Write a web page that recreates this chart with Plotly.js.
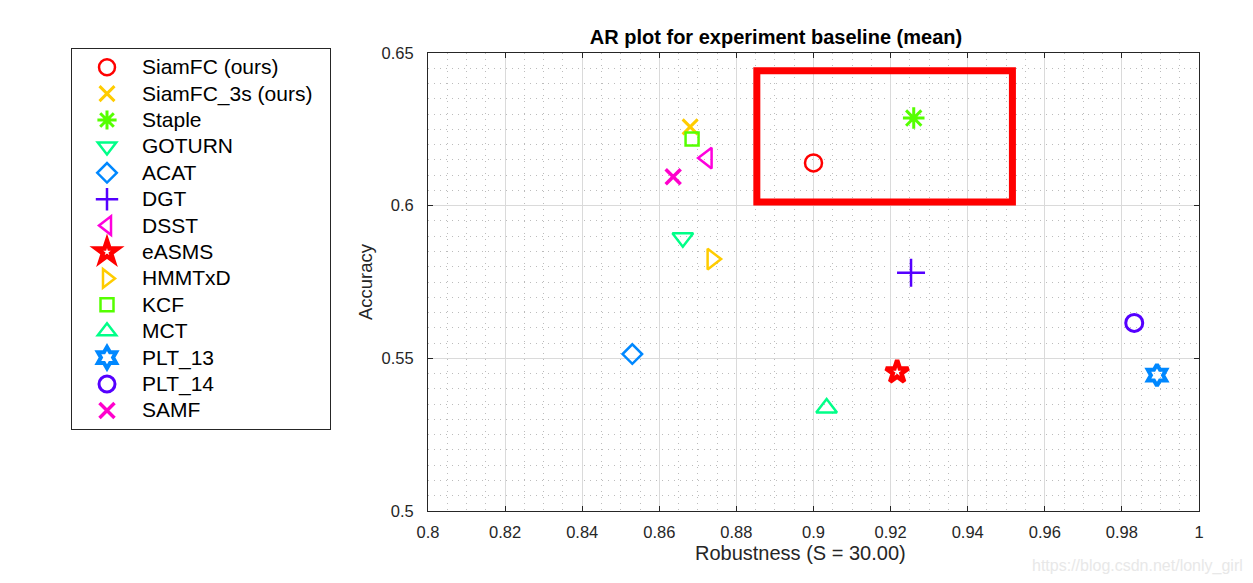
<!DOCTYPE html>
<html>
<head>
<meta charset="utf-8">
<script src="https://cdn.plot.ly/plotly-3.0.1.min.js"></script>
<style>html,body{margin:0;padding:0;background:#fff;}#chart{width:1253px;height:583px;}</style>
</head>
<body>
<div id="chart"></div>
<script>
// ---- data ----
const trackers = ["SiamFC (ours)", "SiamFC_3s (ours)", "Staple", "GOTURN", "ACAT", "DGT", "DSST", "eASMS", "HMMTxD", "KCF", "MCT", "PLT_13", "PLT_14", "SAMF"];
const robustness = [0.900, 0.868, 0.926, 0.8661, 0.853, 0.9253, 0.8724, 0.9217, 0.8737, 0.8685, 0.9034, 0.9891, 0.9832, 0.8636];
const accuracy = [0.614, 0.6258, 0.6287, 0.5895, 0.5514, 0.578, 0.6156, 0.5455, 0.5825, 0.6218, 0.5337, 0.5445, 0.5616, 0.6095];
const xTickVals = [0.8, 0.82, 0.84, 0.86, 0.88, 0.9, 0.92, 0.94, 0.96, 0.98, 1];
const xTickText = ["0.8", "0.82", "0.84", "0.86", "0.88", "0.9", "0.92", "0.94", "0.96", "0.98", "1"];
const yTickVals = [0.5, 0.55, 0.6, 0.65];
const yTickText = ["0.5", "0.55", "0.6", "0.65"];
// highlight box (data coords)
const boxX = [0.8853, 0.9516];
const boxY = [0.6012, 0.6442];

// ---- styles ----
const colors = ["#ff0000", "#ffcc00", "#55ff00", "#00ff88", "#0088ff", "#5500ff", "#ff00dd", "#ff0000", "#ffcc00", "#55ff00", "#00ff88", "#0088ff", "#5500ff", "#ff00cc"];
const symbols = ["circle-open", "x-thin-open", "asterisk-open", "triangle-down-open", "diamond-open", "cross-thin-open", "triangle-left-open", "star-open", "triangle-right-open", "square-open", "triangle-up-open", "hexagram-open", "circle-open", "x-thin-open"];
const sizes = [17, 15, 18, 18, 15, 20, 18, 17, 18, 13, 18, 16, 17, 15];
const lw = [2.5, 3, 3, 2.5, 2.5, 2.5, 2.5, 4.5, 2.5, 2.5, 2.5, 4, 3, 3.5];

const FONT = "Liberation Sans, Arial, sans-serif";

const traces = trackers.map((name, i) => ({
  type: "scatter",
  mode: "markers",
  name: '<span style="font-size:21px">' + name + '&nbsp;&nbsp;</span>',
  x: [robustness[i]],
  y: [accuracy[i]],
  marker: {
    symbol: symbols[i],
    size: sizes[i],
    color: colors[i],
    line: {color: colors[i], width: lw[i]}
  },
  hovertemplate: name + "<br>%{x}, %{y}<extra></extra>"
}));

const layout = {
  width: 1253,
  height: 583,
  paper_bgcolor: "#ffffff",
  plot_bgcolor: "#ffffff",
  margin: {l: 428, r: 54, t: 53, b: 72},
  font: {family: FONT, color: "#262626", size: 16},
  title: {
    text: "<b>AR plot for experiment baseline (mean)</b>",
    font: {family: FONT, size: 20, color: "#000"},
    x: 776 / 1253, xref: "container", xanchor: "center",
    y: 1 - 37 / 583, yref: "container", yanchor: "middle"
  },
  xaxis: {
    range: [0.8, 1],
    tickvals: xTickVals,
    ticktext: xTickText,
    ticks: "inside",
    ticklen: 5,
    tickcolor: "#262626",
    ticklabelstandoff: 6,
    showline: true,
    linecolor: "#262626",
    linewidth: 1,
    mirror: "ticks",
    showgrid: true,
    gridcolor: "#dadada",
    gridwidth: 1,
    zeroline: false,
    tickfont: {size: 16.5, color: "#262626"},
    minor: {dtick: 0.005, showgrid: true, gridcolor: "#bcbcbc", griddash: "1px,5px", gridwidth: 1, ticks: ""},
    fixedrange: true
  },
  yaxis: {
    range: [0.5, 0.65],
    tickvals: yTickVals,
    ticktext: yTickText,
    ticks: "inside",
    ticklen: 5,
    tickcolor: "#262626",
    ticklabelstandoff: 10,
    showline: true,
    linecolor: "#262626",
    linewidth: 1,
    mirror: "ticks",
    showgrid: true,
    gridcolor: "#dadada",
    gridwidth: 1,
    zeroline: false,
    tickfont: {size: 16.5, color: "#262626"},
    minor: {dtick: 0.005, showgrid: true, gridcolor: "#bcbcbc", griddash: "1px,5px", gridwidth: 1, ticks: ""},
    title: {text: "Accuracy", font: {size: 18.5, color: "#262626"}, standoff: 4},
    fixedrange: true
  },
  legend: {
    x: (71 - 428) / 771,
    xanchor: "left",
    y: (511 - 48) / 458,
    yanchor: "top",
    bgcolor: "#ffffff",
    bordercolor: "#262626",
    borderwidth: 1,
    font: {family: FONT, size: 18, color: "#000"},
    itemwidth: 60,
    tracegroupgap: 0,
    maxheight: 600
  },
  shapes: [{
    type: "rect",
    xref: "x", yref: "y",
    x0: boxX[0], x1: boxX[1], y0: boxY[0], y1: boxY[1],
    line: {color: "#ff0000", width: 7},
    fillcolor: "rgba(0,0,0,0)",
    layer: "above"
  }],
  annotations: [{
    text: "Robustness (S = 30.00)",
    xref: "paper", yref: "paper",
    x: (800 - 428) / 771, y: (511 - 553) / 458,
    xanchor: "center", yanchor: "middle",
    showarrow: false,
    font: {family: FONT, size: 20, color: "#262626"}
  }, {
    text: "https://blog.csdn.net/lonly_girl",
    xref: "paper", yref: "paper",
    x: (1245 - 428) / 771, y: (511 - 566) / 458,
    xanchor: "right", yanchor: "middle",
    showarrow: false,
    font: {family: FONT, size: 16, color: "#e8e8e8"}
  }],
  showlegend: true
};

Plotly.newPlot("chart", traces, layout, {displayModeBar: false});
</script>
</body>
</html>
